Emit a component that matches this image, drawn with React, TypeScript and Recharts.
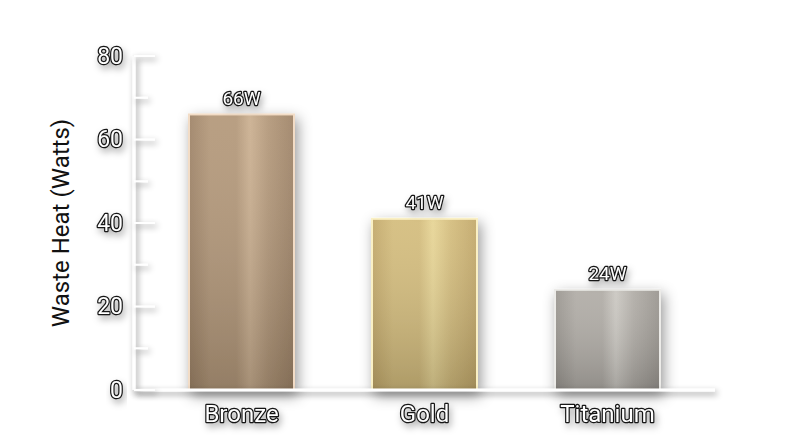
import React from 'react';
import { BarChart, Bar, XAxis, YAxis, Label, LabelList } from 'recharts';

// values
const metals = ['Bronze', 'Gold', 'Titanium'];
const wasteHeat = [66, 41, 24];
const yTicks = [0, 10, 20, 30, 40, 50, 60, 70, 80];

// metallic look per bar: edge / mid / highlight / border
const metalColors = [
  { edge: '#9f8468', mid: '#b4997b', hi: '#cbb091', border: '#f2dcc6' },
  { edge: '#c2a86a', mid: '#d4bd7e', hi: '#e7d596', border: '#faf0c4' },
  { edge: '#9a9690', mid: '#b1ada7', hi: '#cbc8c2', border: '#ecebe8' },
];

const data = metals.map((name, i) => ({ name, heat: wasteHeat[i] }));

const outlined: React.CSSProperties = {
  fill: '#fff',
  stroke: '#151515',
  strokeWidth: 2.5,
  paintOrder: 'stroke',
  strokeLinejoin: 'round',
  fontFamily: 'Roboto, sans-serif',
};

const MetalBar = (props: any) => {
  const { x, y, width, height, index } = props;
  if (!height) return null;
  const c = metalColors[index];
  return (
    <g filter="url(#softShadow)">
      <rect x={x} y={y} width={width} height={height} fill={`url(#metal-${index})`} stroke={c.border} strokeWidth={2} />
      <rect x={x + 1} y={y + 1} width={width - 2} height={height - 2} fill="url(#vShade)" />
    </g>
  );
};

const YTick = (props: any) => {
  const { x, y, payload } = props;
  const major = payload.value % 20 === 0;
  return (
    <g>
      <line x1={x} x2={x + (major ? 21 : 14)} y1={y} y2={y} stroke="#fff" strokeWidth={2} filter="url(#lineShadow)" />
      {major && (
        <text x={x - 11} y={y} textAnchor="end" dominantBaseline="central" fontSize={23} style={outlined} filter="url(#textShadow)">
          {payload.value}
        </text>
      )}
    </g>
  );
};

const XTick = (props: any) => {
  const { x, y, payload } = props;
  return (
    <text x={x} y={y + 24} textAnchor="middle" dominantBaseline="central" fontSize={24} style={outlined} filter="url(#textShadow)">
      {payload.value}
    </text>
  );
};

const ValueLabel = (props: any) => {
  const { x, y, width, value } = props;
  return (
    <text x={x + width / 2} y={y - 16} textAnchor="middle" dominantBaseline="central" fontSize={19} style={outlined} filter="url(#textShadow)">
      {`${value}W`}
    </text>
  );
};

const AxisTitle = (props: any) => {
  const { viewBox } = props;
  const cx = viewBox.x + 61;
  const cy = viewBox.y + viewBox.height / 2;
  return (
    <text x={cx} y={cy} transform={`rotate(-90 ${cx} ${cy})`} textAnchor="middle" dominantBaseline="central" fontSize={24} fill="#111" fontFamily="Roboto, sans-serif">
      Waste Heat (Watts)
    </text>
  );
};

export default function App() {
  return (
    <div style={{ position: 'absolute', left: 0, top: 0, width: 800, height: 447, background: '#fff' }}>
      <BarChart width={800} height={447} data={data} margin={{ top: 56, right: 85, bottom: 17, left: 0 }}>
        <defs>
          <filter id="softShadow" x="-40%" y="-30%" width="180%" height="160%">
            <feDropShadow dx={3} dy={5} stdDeviation={7} floodColor="#000" floodOpacity={0.4} />
          </filter>
          <filter id="lineShadow" filterUnits="userSpaceOnUse" x={0} y={0} width={800} height={447}>
            <feDropShadow dx={2} dy={3} stdDeviation={3} floodColor="#000" floodOpacity={0.45} />
          </filter>
          <filter id="textShadow" x="-30%" y="-50%" width="160%" height="200%">
            <feDropShadow dx={2} dy={4} stdDeviation={3.5} floodColor="#000" floodOpacity={0.3} />
          </filter>
          {metalColors.map((c, i) => (
            <linearGradient key={i} id={`metal-${i}`} x1="0" y1="0" x2="1" y2="0">
              <stop offset="0%" stopColor={c.edge} />
              <stop offset="20%" stopColor={c.mid} />
              <stop offset="45%" stopColor={c.mid} />
              <stop offset="58%" stopColor={c.hi} />
              <stop offset="75%" stopColor={c.mid} />
              <stop offset="100%" stopColor={c.edge} />
            </linearGradient>
          ))}
          <linearGradient id="vShade" x1="0" y1="0" x2="0" y2="1">
            <stop offset="0%" stopColor="#fff" stopOpacity={0.06} />
            <stop offset="100%" stopColor="#000" stopOpacity={0.18} />
          </linearGradient>
        </defs>
        <XAxis
          dataKey="name"
          height={40}
          padding={{ left: 16, right: 16 }}
          tickSize={0}
          tickMargin={0}
          tick={<XTick />}
          axisLine={{ stroke: '#fff', strokeWidth: 3, filter: 'url(#lineShadow)' }}
        />
        <YAxis
          width={134}
          domain={[0, 80]}
          ticks={yTicks}
          interval={0}
          tickSize={0}
          tickMargin={0}
          tick={<YTick />}
          axisLine={{ stroke: '#fff', strokeWidth: 3, filter: 'url(#lineShadow)' }}
        >
          <Label content={<AxisTitle />} />
        </YAxis>
        <Bar dataKey="heat" barSize={105} shape={<MetalBar />} isAnimationActive={false}>
          <LabelList dataKey="heat" content={<ValueLabel />} />
        </Bar>
      </BarChart>
    </div>
  );
}
